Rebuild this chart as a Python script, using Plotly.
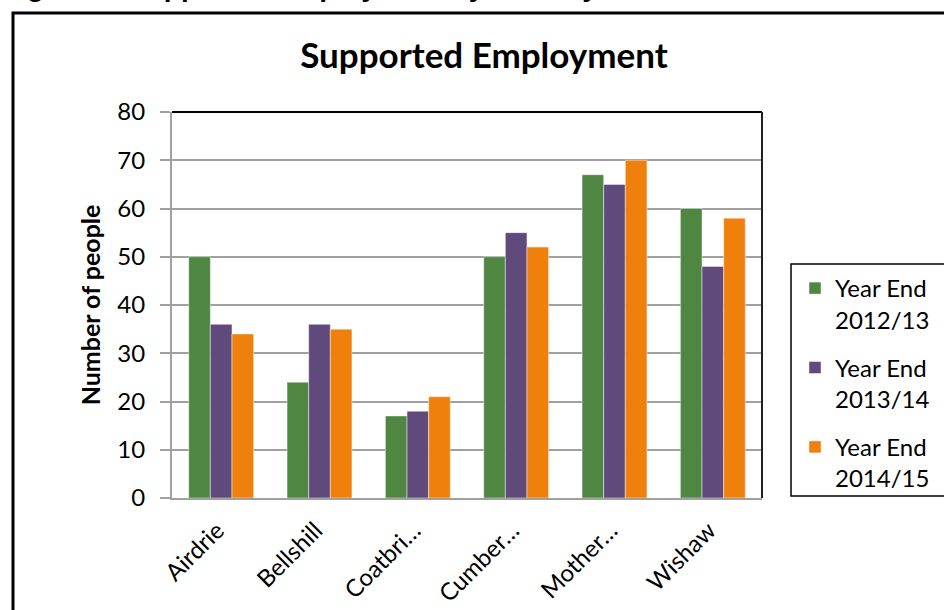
import plotly.graph_objects as go

categories = ["Airdrie", "Bellshill", "Coatbri…", "Cumber…", "Mother…", "Wishaw"]
series_names = ["Year End<br>2012/13", "Year End<br>2013/14", "Year End<br>2014/15"]
values_2012_13 = [50, 24, 17, 50, 67, 60]
values_2013_14 = [36, 36, 18, 55, 65, 48]
values_2014_15 = [34, 35, 21, 52, 70, 58]
colors = ["#4F8642", "#604A7B", "#F0800C"]
y_ticks = [0, 10, 20, 30, 40, 50, 60, 70, 80]

W, H = 944, 610
L, R, T, B = 172, 762, 112, 498  # plot area pixel box
pw, ph = R - L, B - T

def px(x):
    return (x - L) / pw

def py(y):
    return (B - y) / ph

FONT = "Lato, 'Open Sans', sans-serif"

fig = go.Figure()
for name, vals, col, g in zip(series_names, [values_2012_13, values_2013_14, values_2014_15], colors, ["a", "b", "c"]):
    fig.add_trace(go.Bar(
        x=categories, y=vals, name=name, legendgroup=g,
        marker=dict(color=col, line=dict(color="rgba(255,255,255,0.45)", width=1)),
    ))

fig.update_layout(
    width=W, height=H,
    margin=dict(l=L, r=W - R, t=T, b=H - B, pad=0, autoexpand=False),
    paper_bgcolor="white", plot_bgcolor="white",
    barmode="group", bargap=0.34, bargroupgap=0,
    font=dict(family=FONT, color="black", size=24),
    showlegend=True,
    legend=dict(
        x=px(795), y=py(266), xanchor="left", yanchor="top",
        font=dict(size=24, family=FONT, color="black"),
        valign="top", traceorder="grouped", tracegroupgap=14,
        itemwidth=30, bgcolor="rgba(0,0,0,0)",
    ),
    title=dict(
        text="<b>Supported Employment</b>",
        x=484 / W, xanchor="center", y=1 - 56 / H, yanchor="middle",
        font=dict(size=35, family=FONT, color="black"),
    ),
    xaxis=dict(
        tickangle=-45, showline=True, linecolor="#A0A0A0", linewidth=2,
        ticks="", showgrid=False, tickfont=dict(size=24, family=FONT),
        ticklabelstandoff=7, ticklabelshift=-4, automargin=False,
        fixedrange=True,
    ),
    yaxis=dict(
        range=[0, 80], tickvals=y_ticks, showline=True, linecolor="#A0A0A0", linewidth=2,
        ticks="outside", ticklen=10, tickcolor="#A0A0A0", tickwidth=2,
        showgrid=True, gridcolor="#A0A0A0", gridwidth=2, automargin=False,
        tickfont=dict(size=24, family=FONT), zeroline=False, ticklabelstandoff=10,
        title=dict(text="<b>Number of people</b>", standoff=10, font=dict(size=25, family=FONT)),
    ),
    shapes=[
        # chart frame
        dict(type="rect", xref="paper", yref="paper", x0=px(13), x1=px(990), y0=py(660), y1=py(13),
             line=dict(color="black", width=3), layer="below"),
        # plot area top and right border
        dict(type="line", xref="paper", yref="paper", x0=0, x1=1, y0=1, y1=1,
             line=dict(color="black", width=2)),
        dict(type="line", xref="paper", yref="paper", x0=1, x1=1, y0=0, y1=1,
             line=dict(color="#202020", width=2)),
        # legend box
        dict(type="rect", xref="paper", yref="paper", x0=px(791), x1=px(990), y0=py(496), y1=py(264),
             line=dict(color="black", width=1.5), layer="below"),
    ],
    annotations=[
        dict(text="<b>Figure 4: Supported Employment by Locality</b>", xref="paper", yref="paper",
             x=px(0), y=py(-13), xanchor="left", yanchor="middle", showarrow=False,
             font=dict(size=28, family="Liberation Sans, Arial, sans-serif", color="black")),
    ],
)

fig.write_html("out.html")
